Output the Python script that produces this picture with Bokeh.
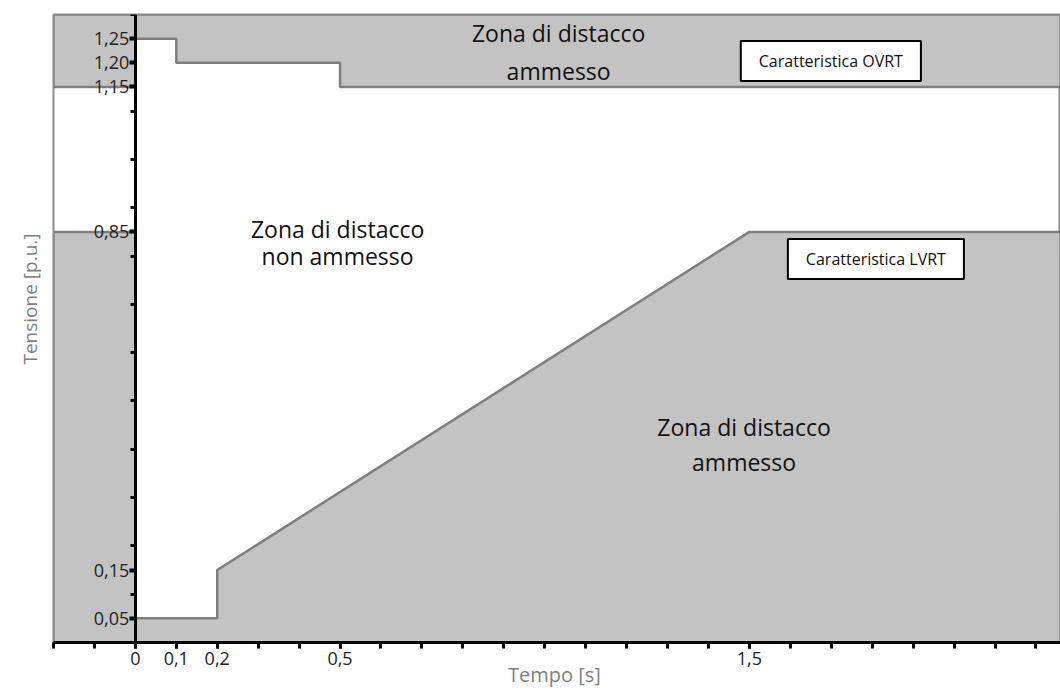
from bokeh.plotting import figure
from bokeh.models import FixedTicker, Label, Title
from bokeh.embed import file_html
from bokeh.resources import INLINE

# ---- data ----
time_min, time_max = -0.2, 2.26
volt_min, volt_max = 0.0, 1.3

ovrt_time = [0.0, 0.1, 0.1, 0.5, 0.5, 2.26]
ovrt_volt = [1.25, 1.25, 1.20, 1.20, 1.15, 1.15]

lvrt_time = [0.0, 0.2, 0.2, 1.5, 2.26]
lvrt_volt = [0.05, 0.05, 0.15, 0.85, 0.85]

pre_fault_high = 1.15
pre_fault_low = 0.85

x_major_ticks = [0.0, 0.1, 0.2, 0.5, 1.5]
x_major_labels = ["0", "0,1", "0,2", "0,5", "1,5"]
x_minor_ticks = [-0.2, -0.1, 0.0, 0.1, 0.2, 0.3, 0.4, 0.5, 0.6, 0.7, 0.8, 0.9,
                 1.0, 1.1, 1.2, 1.3, 1.4, 1.5, 1.6, 1.7, 1.8, 1.9, 2.0, 2.1, 2.2]

y_major_ticks = [0.05, 0.15, 0.85, 1.15, 1.20, 1.25]
y_major_labels = ["0,05", "0,15", "0,85", "1,15", "1,20", "1,25"]
y_minor_ticks = [0.0, 0.1, 0.2, 0.3, 0.4, 0.5, 0.6, 0.7, 0.8, 0.9, 1.0, 1.1, 1.2, 1.3]

zone_texts = ["Zona di distacco", "ammesso", "Zona di distacco", "non ammesso",
              "Zona di distacco", "ammesso"]
zone_x = [1.034, 1.034, 0.494, 0.494, 1.487, 1.487]
zone_y = [1.262, 1.184, 0.857, 0.800, 0.446, 0.374]

box_texts = ["Caratteristica OVRT", "Caratteristica LVRT"]
box_x = [1.699, 1.809]
box_y = [1.2035, 0.794]

FILL = "#c3c3c3"
EDGE = "#7f7f7f"
FONT = "Open Sans"

p = figure(width=1060, height=690, x_range=(time_min, time_max),
           y_range=(volt_min, volt_max), output_backend="svg",
           toolbar_location=None, min_border_left=53, min_border_right=0,
           min_border_top=14, min_border_bottom=47)
p.grid.visible = False
p.outline_line_color = "#8c8c8c"
p.outline_line_width = 2

# upper (OVRT) region
up_x = [time_min, time_min, 0.0] + ovrt_time + [time_max]
up_y = [volt_max, pre_fault_high, pre_fault_high] + ovrt_volt + [volt_max]
p.patch(up_x, up_y, fill_color=FILL, line_color=EDGE, line_width=2.5)

# lower (LVRT) region
lo_x = [time_min, time_min, 0.0] + lvrt_time + [time_max]
lo_y = [volt_min, pre_fault_low, pre_fault_low] + lvrt_volt + [volt_min]
p.patch(lo_x, lo_y, fill_color=FILL, line_color=EDGE, line_width=2.5)

# zone texts
for tx, xx, yy in zip(zone_texts, zone_x, zone_y):
    p.add_layout(Label(x=xx, y=yy, text=tx, text_align="center",
                       text_baseline="middle", text_font=FONT,
                       text_font_size="23px", text_color="#111111"))

# characteristic boxes
for txt, xx, yy in zip(box_texts, box_x, box_y):
    p.add_layout(Label(x=xx, y=yy, text=txt, text_align="center",
                       text_baseline="middle", text_font=FONT,
                       text_font_size="16px", text_color="#111111",
                       background_fill_color="white",
                       border_line_color="black", border_line_width=2,
                       padding=(18, 9)))

# x axis
xa = p.xaxis[0]
xa.ticker = FixedTicker(ticks=x_major_ticks, minor_ticks=x_minor_ticks)
xa.major_label_overrides = dict(zip(x_major_ticks, x_major_labels))
xa.axis_line_color = "black"
xa.axis_line_width = 3
xa.major_tick_line_width = 3
xa.minor_tick_line_width = 3
xa.major_tick_in = 0
xa.minor_tick_in = 0
xa.major_tick_out = 6
xa.minor_tick_out = 6
xa.major_label_standoff = 3
xa.major_label_text_font = FONT
xa.major_label_text_font_size = "18px"
xa.major_label_text_color = "#222222"
xa.axis_label = "Tempo  [s]"
xa.axis_label_text_font = FONT
xa.axis_label_text_font_size = "20px"
xa.axis_label_text_font_style = "normal"
xa.axis_label_text_color = "#7f7f7f"
xa.axis_label_standoff = -7

# y axis at t = 0
ya = p.yaxis[0]
ya.fixed_location = 0.0
ya.ticker = FixedTicker(ticks=y_major_ticks, minor_ticks=y_minor_ticks)
ya.major_label_overrides = dict(zip(y_major_ticks, y_major_labels))
ya.axis_line_color = "black"
ya.axis_line_width = 3
ya.major_tick_line_width = 4
ya.minor_tick_line_width = 3
ya.major_tick_in = 0
ya.minor_tick_in = 0
ya.major_tick_out = 6
ya.minor_tick_out = 5
ya.major_label_standoff = 0
ya.major_label_text_font = FONT
ya.major_label_text_font_size = "18px"
ya.major_label_text_color = "#222222"

p.add_layout(Title(text="Tensione [p.u.]", align="right", text_font=FONT,
                   text_font_size="19px", text_font_style="normal",
                   text_color="#7f7f7f", offset=219, standoff=22), "left")

open("out.html", "w").write(file_html(p, INLINE))
